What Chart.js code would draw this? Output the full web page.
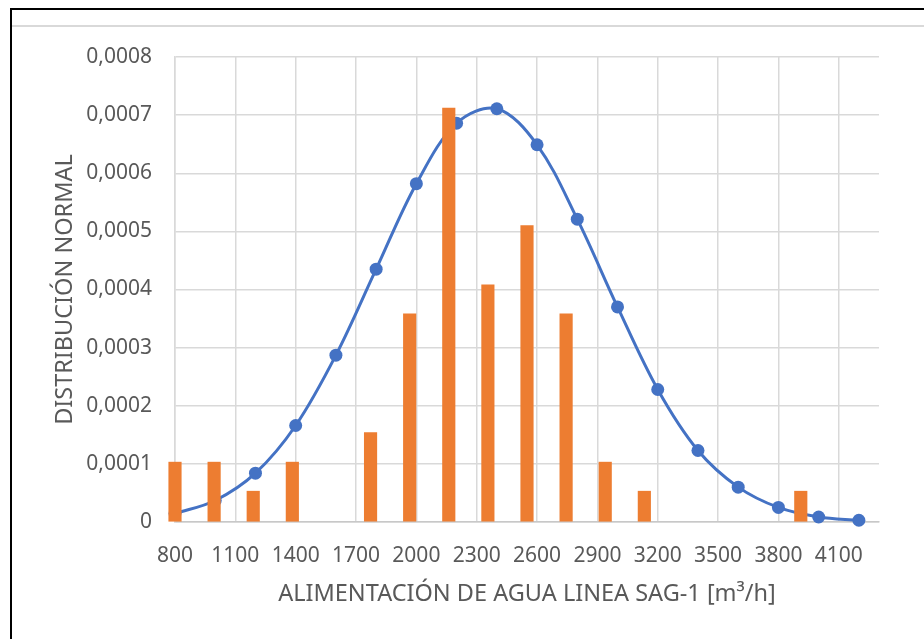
<!DOCTYPE html>
<html>
<head>
<meta charset="utf-8">
<script src="https://cdn.jsdelivr.net/npm/chart.js@4"></script>
<style>
  body { margin: 0; background: #fff; }
  #wrap { position: relative; width: 924px; height: 639px; overflow: hidden; }
  .frame { position: absolute; left: 10px; top: 8px; width: 1000px; height: 1000px;
           border-top: 2px solid #000; border-left: 2px solid #000; }
  .chartbox { position: absolute; left: 12px; top: 25px; width: 1000px; border-top: 2px solid #d9d9d9; }
  canvas { position: absolute; left: 0; top: 0; }
</style>
</head>
<body>
<div id="wrap">
  <div class="frame"></div>
  <div class="chartbox"></div>
  <canvas id="chart" width="924" height="639"></canvas>
</div>
<script>
// normal distribution curve (blue)
const distX = [800, 1000, 1200, 1400, 1600, 1800, 2000, 2200, 2400, 2600, 2800, 3000, 3200, 3400, 3600, 3800, 4000, 4200];
const distY = [0.0000145, 0.000037, 0.000084, 0.000166, 0.000287, 0.000435, 0.000582, 0.000686, 0.000711, 0.000649,
               0.000521, 0.00037, 0.000228, 0.000123, 0.00006, 0.000025, 0.0000086, 0.000003];

// histogram bins (orange), on their own hidden category axis
const binLabels = ["1", "2", "3", "4", "5", "6", "7", "8", "9", "10", "11", "12", "13", "14", "15", "16", "17", "18", "19"];
const binValues = [0.000103, 0.000103, 0.000053, 0.000103, null, 0.000154, 0.000358, 0.000712, 0.000408, 0.00051,
                   0.000358, 0.000103, 0.000053, null, null, null, 0.000053, null, null];

const xTicks = [800, 1100, 1400, 1700, 2000, 2300, 2600, 2900, 3200, 3500, 3800, 4100];

const gray = "#595959";
const family = "'Noto Sans', 'Open Sans', sans-serif";
const tickFont = { family, size: 21 };
const titleFont = { family, size: 23.5 };

new Chart(document.getElementById("chart"), {
  type: "line",
  data: {
    datasets: [
      {
        type: "bar",
        data: binValues,
        xAxisID: "x2",
        yAxisID: "y",
        backgroundColor: "#ED7D31",
        grouped: false,       // otherwise the line dataset shifts the bars sideways
        barThickness: 12.5,
        maxBarThickness: 12.5,
        clip: false,
        order: 0
      },
      {
        type: "line",
        data: distX.map((x, i) => ({ x, y: distY[i] })),
        xAxisID: "x",
        yAxisID: "y",
        borderColor: "#4472C4",
        backgroundColor: "#4472C4",
        borderWidth: 3,
        tension: 0.35,
        pointRadius: 6.5,
        pointBorderWidth: 0,
        fill: false,
        clip: false,
        order: 1
      }
    ]
  },
  options: {
    responsive: false,
    animation: false,
    layout: { padding: { left: 0, right: 45, top: 57, bottom: 0 } },
    plugins: { legend: { display: false }, tooltip: { enabled: false } },
    scales: {
      x: {
        type: "linear",
        position: "bottom",
        min: 800,
        max: 4300,
        afterBuildTicks: (scale) => { scale.ticks = xTicks.map(v => ({ value: v })); },
        afterFit: (scale) => { scale.height = 117; },
        grid: { color: "#D9D9D9", lineWidth: 1.5, drawTicks: false },
        border: { color: "#C8C8C8", width: 1.5 },
        ticks: { color: gray, font: tickFont, padding: 21, maxRotation: 0, autoSkip: false,
                 callback: (v) => String(v) },
        title: {
          display: true,
          text: "ALIMENTACIÓN DE AGUA LINEA SAG-1 [m³/h]",
          color: gray,
          font: titleFont,
          padding: { top: 0, bottom: 31 }
        }
      },
      x2: {
        type: "category",
        labels: binLabels,
        display: false,
        offset: false,
        grid: { offset: false }
      },
      y: {
        min: 0,
        max: 0.0008,
        afterFit: (scale) => { scale.width = 175; },
        grid: { color: "#D9D9D9", lineWidth: 1.5, drawTicks: false },
        border: { color: "#D9D9D9", width: 1.5 },
        ticks: {
          stepSize: 0.0001,
          color: gray,
          font: tickFont,
          padding: 23,
          callback: (v) => (v === 0 ? "0" : v.toFixed(4).replace(".", ","))
        },
        title: {
          display: true,
          text: "DISTRIBUCIÓN NORMAL",
          color: gray,
          font: titleFont,
          padding: { top: 51, bottom: 0 }
        }
      }
    }
  }
});
</script>
</body>
</html>
